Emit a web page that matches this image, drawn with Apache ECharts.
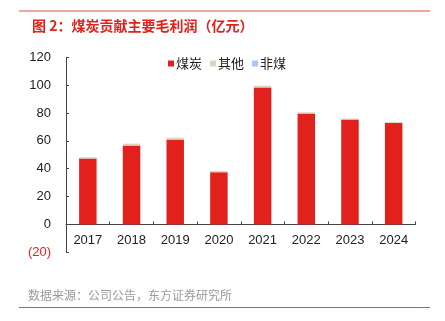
<!DOCTYPE html>
<html>
<head>
<meta charset="utf-8">
<script src="https://cdn.jsdelivr.net/npm/echarts@6/dist/echarts.min.js"></script>
<style>
  html, body { margin: 0; padding: 0; background: #fff; }
  #chart { width: 445px; height: 321px; }
</style>
</head>
<body>
<div id="chart"></div>
<script>
// Gross profit by segment, 100 million yuan
const years = ['2017', '2018', '2019', '2020', '2021', '2022', '2023', '2024'];
const coal = [47.3, 56.6, 60.9, 37.5, 98.4, 79.6, 75.3, 72.8];
const other = [1.0, 1.4, 1.4, 1.0, 1.2, 0.9, 0.7, 0.7];
const nonCoal = [0, 0, 0, 0, 0, 0, 0, 0];
const yTicks = { min: -20, max: 120, step: 20 };

const RED = '#E2211C';
const CJK = '"Noto Sans CJK SC", sans-serif';
const NUM = '"Liberation Sans", Arial, sans-serif';

const chart = echarts.init(document.getElementById('chart'), null, { renderer: 'canvas' });

function barSeries(name, data, color) {
  return {
    name: name,
    type: 'bar',
    stack: 'total',
    data: data,
    barWidth: '40%',
    itemStyle: { color: color },
    emphasis: { disabled: true }
  };
}

chart.setOption({
  animation: false,
  title: {
    text: '图 2：煤炭贡献主要毛利润（亿元）',
    left: 27,
    top: 14,
    textStyle: { color: RED, fontSize: 14, fontWeight: 'bold', fontFamily: CJK }
  },
  graphic: [
    { type: 'line', shape: { x1: 19, y1: 11, x2: 430, y2: 11 }, style: { stroke: '#E24A45', lineWidth: 1 } },
    { type: 'line', shape: { x1: 19, y1: 307.5, x2: 430, y2: 307.5 }, style: { stroke: '#E24A45', lineWidth: 1 } },
    { type: 'text', left: 28, top: 289, style: { text: '数据来源：公司公告，东方证券研究所', fill: '#9A9A9A', font: '12px ' + CJK } }
  ],
  legend: {
    left: 163,
    top: 52,
    icon: 'rect',
    itemWidth: 6,
    itemHeight: 6,
    itemGap: 8,
    textStyle: { fontSize: 13, fontFamily: CJK, color: '#222', padding: [0, 0, 0, -3] },
    data: ['煤炭', '其他', '非煤']
  },
  grid: { left: 66, right: 29.5, top: 57.3, bottom: 68.7, containLabel: false },
  xAxis: {
    type: 'category',
    data: years,
    offset: 0,
    axisLine: { onZero: false, lineStyle: { color: '#444', width: 1 } },
    axisTick: { show: true, inside: true, length: 3, alignWithLabel: false, lineStyle: { color: '#444' } },
    axisLabel: { color: '#222', fontSize: 13, fontFamily: NUM, margin: 9 }
  },
  yAxis: {
    type: 'value',
    min: yTicks.min,
    max: yTicks.max,
    interval: yTicks.step,
    splitLine: { show: false },
    axisLine: { show: true, lineStyle: { color: '#444', width: 1 } },
    axisTick: { show: true, inside: true, length: 3, lineStyle: { color: '#444' } },
    axisLabel: {
      fontSize: 13,
      fontFamily: NUM,
      color: '#222',
      margin: 15,
      formatter: function (v) { return v < 0 ? '{neg|(' + Math.abs(v) + ')}' : String(v); },
      rich: { neg: { color: '#F02020', fontSize: 13, fontFamily: NUM } }
    }
  },
  series: [
    barSeries('煤炭', coal, RED),
    barSeries('其他', other, '#DDD5BE'),
    barSeries('非煤', nonCoal, '#A9C8F5')
  ]
});

// Lift the category axis (line, ticks and labels) up to the value-axis zero.
const zeroY = chart.convertToPixel({ yAxisIndex: 0 }, 0);
const bottomY = chart.convertToPixel({ yAxisIndex: 0 }, yTicks.min);
chart.setOption({ xAxis: { offset: zeroY - bottomY } });
</script>
</body>
</html>
